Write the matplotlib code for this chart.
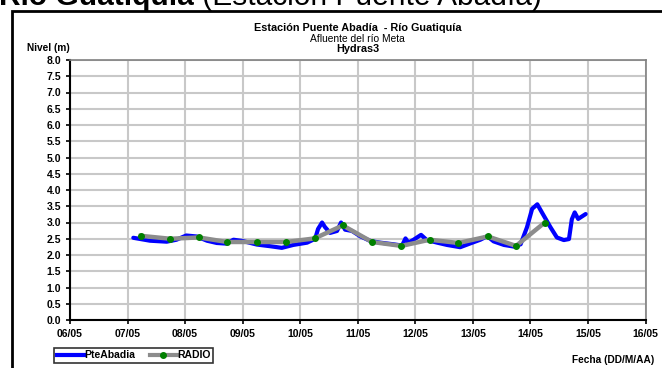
import matplotlib
matplotlib.use("Agg")
import matplotlib.pyplot as plt
from matplotlib.patches import Rectangle
from matplotlib.lines import Line2D

plt.rcParams['font.family'] = ['Liberation Sans', 'DejaVu Sans']

# days counted from 06/05 00:00
pte_dias = [1.10, 1.39, 1.68, 1.85, 2.02, 2.20, 2.38, 2.55, 2.72, 2.84, 3.00,
            3.25, 3.48, 3.68, 3.88, 4.12, 4.26, 4.31, 4.38, 4.43, 4.52, 4.64,
            4.71, 4.78, 4.90, 5.04, 5.22, 5.39, 5.62, 5.77, 5.83, 5.88, 5.97,
            6.10, 6.20, 6.38, 6.55, 6.78, 6.96, 7.13, 7.25, 7.36, 7.54, 7.71,
            7.83, 7.94, 8.03, 8.12, 8.20, 8.35, 8.46, 8.58, 8.67, 8.72, 8.77,
            8.83, 8.96]
pte_nivel = [2.53, 2.44, 2.41, 2.47, 2.60, 2.57, 2.44, 2.37, 2.35, 2.47, 2.43,
             2.32, 2.27, 2.22, 2.31, 2.38, 2.50, 2.80, 3.00, 2.86, 2.68, 2.74,
             3.00, 2.78, 2.74, 2.58, 2.43, 2.38, 2.33, 2.29, 2.51, 2.38, 2.47,
             2.62, 2.46, 2.38, 2.31, 2.24, 2.36, 2.47, 2.58, 2.42, 2.31, 2.26,
             2.33, 2.85, 3.42, 3.56, 3.31, 2.85, 2.54, 2.46, 2.49, 3.10, 3.31,
             3.11, 3.26]

radio_dias = [1.23, 1.74, 2.24, 2.73, 3.25, 3.75, 4.25, 4.74, 5.25, 5.76,
              6.25, 6.75, 7.26, 7.75, 8.25]
radio_nivel = [2.59, 2.50, 2.54, 2.40, 2.40, 2.40, 2.51, 2.91, 2.40, 2.28,
               2.47, 2.37, 2.57, 2.28, 3.00]

fechas = ['06/05', '07/05', '08/05', '09/05', '10/05', '11/05', '12/05',
          '13/05', '14/05', '15/05', '16/05']

W, H = 662, 368
fig = plt.figure(figsize=(W / 100, H / 100), dpi=100)
ax = fig.add_axes([70 / W, 1 - 320 / H, (645.5 - 70) / W, (320 - 60) / H])

ax.plot(pte_dias, pte_nivel, color='#0000ff', lw=3, solid_capstyle='round', zorder=3)
ax.plot(radio_dias, radio_nivel, color='#8c8c8c', lw=3.2, zorder=4)
ax.plot(radio_dias, radio_nivel, 'o', color='#008000', ms=4, zorder=5)

ax.set_xlim(0, 10)
ax.set_ylim(0, 8)
ax.set_xticks(range(len(fechas)))
ax.set_xticklabels(fechas)
ax.set_yticks([i * 0.5 for i in range(17)])
ax.set_yticklabels(['%.1f' % (i * 0.5) for i in range(17)])
ax.grid(True, color='#c8c8c8', lw=1.5)
ax.set_axisbelow(True)
for s in ['left', 'bottom']:
    ax.spines[s].set_color('black')
    ax.spines[s].set_linewidth(1.5)
for s in ['top', 'right']:
    ax.spines[s].set_color('#808080')
    ax.spines[s].set_linewidth(1.2)
ax.tick_params(direction='out', length=3, width=1.2, labelsize=7.5, pad=3.5)
for lab in ax.get_xticklabels() + ax.get_yticklabels():
    lab.set_fontweight('bold')

# outer frame (extends past the right and bottom edges)
fig.patches.append(Rectangle((11.5 / W, -0.1), 1.2, 1 - 11 / H + 0.1,
                             transform=fig.transFigure, fill=False,
                             edgecolor='black', lw=2))

# cut-off page title
t1 = fig.text(-1 / W, 1 - 5 / H, 'Río Guatiquía', fontsize=21.5, fontweight='bold',
              ha='left', va='baseline')
r = fig.canvas.get_renderer()
x_end = t1.get_window_extent(r).x1
fig.text(x_end / W, 1 - 5 / H, ' (Estación Puente Abadía)', fontsize=21.5,
         ha='left', va='baseline')

cx = (70 + 645.5) / 2 / W
fig.text(cx, 1 - 28 / H, 'Estación Puente Abadía  - Río Guatiquía', fontsize=7.8,
         fontweight='bold', ha='center', va='center')
fig.text(cx, 1 - 38.5 / H, 'Afluente del río Meta', fontsize=7.4,
         ha='center', va='center')
fig.text(cx, 1 - 48.5 / H, 'Hydras3', fontsize=7.8, fontweight='bold',
         ha='center', va='center')
fig.text(27 / W, 1 - 48 / H, 'Nivel (m)', fontsize=7.3, fontweight='bold',
         ha='left', va='center')
fig.text(572 / W, 1 - 360 / H, 'Fecha (DD/M/AA)', fontsize=7.3,
         fontweight='bold', ha='left', va='center')

handles = [Line2D([], [], color='#0000ff', lw=3),
           Line2D([], [], color='#8c8c8c', lw=3, marker='o',
                  markerfacecolor='#008000', markeredgecolor='#008000', ms=4)]
leg = fig.legend(handles, ['PteAbadia', 'RADIO'], ncol=2,
                 loc='center left', bbox_to_anchor=(54 / W, 1 - 355.5 / H),
                 frameon=True, fancybox=False, edgecolor='black',
                 prop={'size': 7.5, 'weight': 'bold'}, handlelength=2.6,
                 handletextpad=0.05, columnspacing=1.4, borderpad=0.25,
                 borderaxespad=0)
leg.get_frame().set_linewidth(1.2)

fig.savefig('out.png', dpi=100)
